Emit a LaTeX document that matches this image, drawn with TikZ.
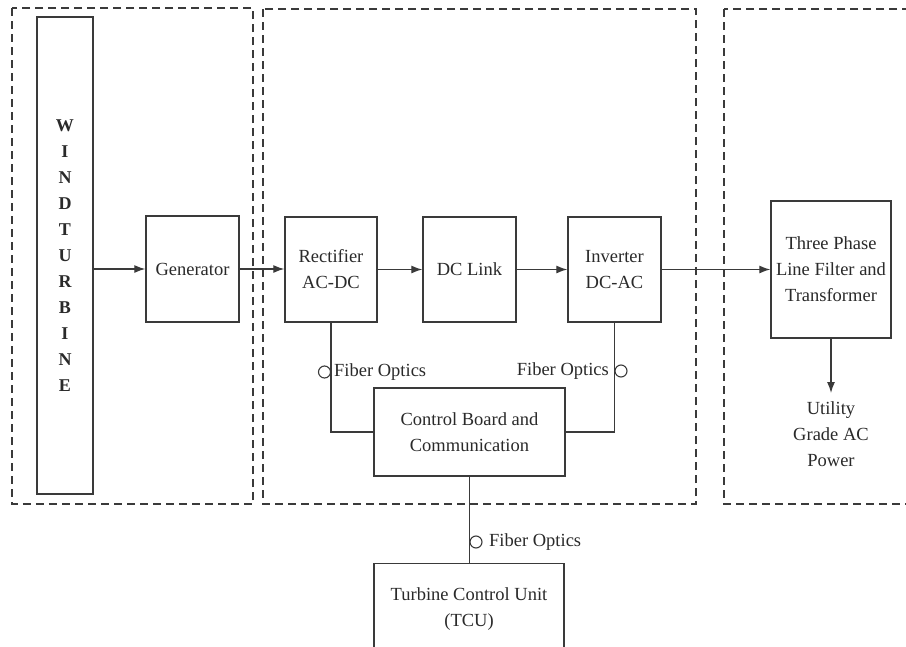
\documentclass[tikz,border=0pt]{standalone}
\usepackage{fontspec}
\setmainfont{Liberation Serif}
\usetikzlibrary{arrows.meta}
\definecolor{ln}{HTML}{3a3a3a}
\definecolor{tx}{HTML}{2a2a2a}
\begin{document}
\begin{tikzpicture}[x=1pt,y=-1pt,
  blk/.style={draw=ln,line width=1.4pt,rectangle,inner sep=0pt,align=center,text=tx,
    font=\fontsize{18.5}{26}\selectfont},
  lbl/.style={inner sep=0pt,align=center,text=tx,font=\fontsize{18.5}{26}\selectfont},
  zone/.style={draw=ln,line width=1.2pt,dash pattern=on 8pt off 5pt},
  con/.style={draw=ln,line width=1.3pt},
  arr/.style={con,-{Latex[length=11pt,width=8pt]}},
  fo/.style={circle,draw=ln,line width=1.1pt,minimum size=12pt,inner sep=0pt}]
\useasboundingbox (0,0) rectangle (906,646);
\clip (0,0) rectangle (906,646);
\fill[white] (0,0) rectangle (906,646);
% zones
\draw[zone] (12,8) rectangle (253,504);
\draw[zone] (263,9) rectangle (696,504);
\draw[zone] (724,9) rectangle (920,504);
% blocks
\node[blk,minimum width=56,minimum height=477,font=\fontsize{18}{26}\selectfont\bfseries] (wt) at (65,255.5) {W\\I\\N\\D\\T\\U\\R\\B\\I\\N\\E};
\node[blk,minimum width=93,minimum height=106] (gen) at (192.5,269) {Generator};
\node[blk,minimum width=92,minimum height=105] (rect) at (331,269.5) {Rectifier\\AC-DC};
\node[blk,minimum width=93,minimum height=105] (dcl) at (469.5,269.5) {DC Link};
\node[blk,minimum width=93,minimum height=105] (inv) at (614.5,269.5) {Inverter\\DC-AC};
\node[blk,minimum width=120,minimum height=137] (tpf) at (831,269.5) {Three Phase\\Line Filter and\\Transformer};
\node[blk,minimum width=191,minimum height=88] (cb) at (469.5,432) {Control Board and\\Communication};
\node[blk,minimum width=190,minimum height=90,anchor=north] (tcu) at (469,563) {Turbine Control Unit\\(TCU)};
\node[lbl,anchor=north] (util) at (831,401) {Utility\\Grade AC\\Power};
% arrows
\draw[arr] (wt.east |- gen.west) -- (gen.west);
\draw[arr] (gen.east) -- (gen.east -| rect.west);
\draw[arr] (rect.east) -- (dcl.west);
\draw[arr] (dcl.east) -- (inv.west);
\draw[arr] (inv.east) -- (inv.east -| tpf.west);
\draw[arr] (tpf.south) -- ([yshift=8pt]util.north);
% control links
\draw[con] (rect.south) |- (cb.west);
\draw[con] (inv.south) |- (cb.east);
\draw[con] (cb.south) -- (cb.south |- tcu.north);
% fiber optics labels
\node[fo] (c1) at (324.5,372) {};
\node[lbl,anchor=west] (f1) at (334,372) {Fiber Optics};
\node[fo] (c2) at (621,371) {};
\node[lbl,anchor=east] (f2) at (609,371) {Fiber Optics};
\node[fo] (c3) at (476,542) {};
\node[lbl,anchor=west] (f3) at (489,542) {Fiber Optics};
\end{tikzpicture}
\end{document}
